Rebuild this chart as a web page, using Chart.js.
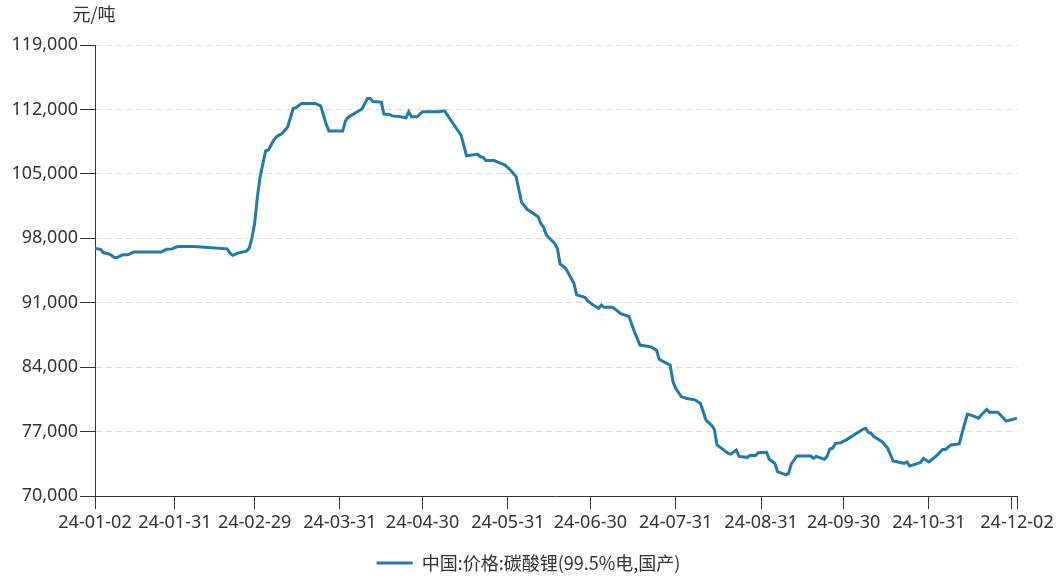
<!DOCTYPE html>
<html>
<head>
<meta charset="utf-8">
<script src="https://cdn.jsdelivr.net/npm/chart.js@4.4.1/dist/chart.umd.min.js"></script>
<style>
  html, body { margin: 0; padding: 0; background: #fff; }
  #wrap { width: 1057px; height: 580px; }
</style>
</head>
<body>
<div id="wrap"><canvas id="chartCanvas" width="1057" height="580"></canvas></div>
<script>
// --- data ---
const seriesName = "中国:价格:碳酸锂(99.5%电,国产)";
const unitLabel = "元/吨";

// days since 2024-01-02
const dayIndex = [
  0, 2, 3, 5, 6, 7, 8, 10, 12, 14, 24, 26, 28, 30, 36, 48, 49, 50, 52, 55,
  56, 57, 58, 59, 60, 62, 63, 65, 66, 68, 70, 72, 73, 75, 80, 82, 84, 85, 90, 91,
  92, 97, 99, 100, 101, 104, 105, 107, 108, 111, 113, 114, 115, 117, 119, 125, 127, 133, 134, 135,
  139, 140, 141, 142, 145, 147, 149, 151, 153, 155, 157, 161, 162, 163, 164, 167, 168, 169, 171, 174,
  175, 178, 179, 181, 183, 184, 185, 188, 189, 191, 194, 196, 198, 202, 204, 205, 209, 210, 211, 213,
  215, 218, 220, 222, 224, 225, 226, 230, 231, 233, 234, 237, 238, 240, 241, 244, 245, 247, 248, 251,
  252, 253, 255, 260, 261, 262, 265, 266, 267, 268, 269, 271, 273, 279, 280, 281, 282, 283, 286, 288,
  290, 294, 295, 296, 297, 300, 301, 303, 306, 308, 309, 311, 314, 316, 317, 319, 321, 322, 324, 325,
  328, 329, 331, 332, 335
];

const priceValues = [
  96900, 96800, 96450, 96300, 96150, 95900, 95900, 96200, 96200, 96500, 96500, 96800, 96850, 97100, 97100, 96850, 96400, 96150, 96400, 96600,
  96900, 98000, 99600, 102500, 104700, 107500, 107600, 108700, 109050, 109400, 110100, 112100, 112200, 112650, 112650, 112400, 110400, 109650, 109650, 110750,
  111150, 112050, 113200, 113200, 112850, 112800, 111500, 111450, 111300, 111200, 111100, 111750, 111200, 111200, 111750, 111750, 111850, 109200, 108100, 106950,
  107150, 106850, 106800, 106450, 106450, 106200, 105950, 105400, 104700, 101900, 101150, 100350, 99600, 99200, 98350, 97450, 96900, 95200, 94750, 93100,
  91850, 91600, 91200, 90750, 90400, 90750, 90500, 90500, 90300, 89800, 89500, 87850, 86400, 86200, 85850, 84850, 84200, 82400, 81700, 80800,
  80600, 80450, 80050, 78250, 77700, 77250, 75550, 74650, 74550, 75000, 74300, 74200, 74400, 74400, 74700, 74750, 74000, 73550, 72650, 72300,
  72450, 73500, 74350, 74350, 74100, 74300, 74000, 74300, 75100, 75200, 75700, 75800, 76100, 77250, 77350, 76900, 76800, 76450, 75900, 75200,
  73800, 73550, 73700, 73250, 73350, 73650, 74100, 73700, 74450, 75050, 75050, 75550, 75650, 77900, 78900, 78700, 78450, 78800, 79400, 79100,
  79100, 78800, 78150, 78200, 78450
];

const tickDays = [0, 29, 58, 89, 119, 150, 180, 211, 242, 272, 303, 333, 335];
const tickLabels = ["24-01-02", "24-01-31", "24-02-29", "24-03-31", "24-04-30", "24-05-31",
  "24-06-30", "24-07-31", "24-08-31", "24-09-30", "24-10-31", "", "24-12-02"];

const yMin = 70000, yMax = 119000, yStep = 7000;

// --- styling ---
const textColor = "#333";
const axisColor = "#333";
const lineColor = "#237aa6";
const fontFamily = '"Noto Sans", "Noto Sans CJK SC", sans-serif';
const cjkFamily = '"Noto Sans CJK SC", "Noto Sans", sans-serif';

// unit label above the y axis
const unitPlugin = {
  id: "unitLabel",
  afterDraw(chart) {
    const { ctx, chartArea } = chart;
    ctx.save();
    ctx.font = `18px ${cjkFamily}`;
    ctx.fillStyle = textColor;
    ctx.textAlign = "center";
    ctx.textBaseline = "middle";
    ctx.fillText(unitLabel, chartArea.left - 1, 14);
    ctx.restore();
  }
};

const points = dayIndex.map((d, i) => ({ x: d, y: priceValues[i] }));

const canvas = document.getElementById("chartCanvas");
new Chart(canvas, {
  type: "line",
  data: {
    datasets: [{
      label: seriesName,
      data: points,
      borderColor: lineColor,
      backgroundColor: lineColor,
      borderWidth: 3,
      pointRadius: 0,
      tension: 0,
      fill: false
    }]
  },
  options: {
    responsive: false,
    animation: false,
    layout: { padding: { top: 45, right: 0, left: 0, bottom: -2 } },
    plugins: {
      legend: {
        position: "bottom",
        labels: {
          usePointStyle: true,
          pointStyle: "line",
          pointStyleWidth: 36,
          color: textColor,
          font: { size: 18, family: cjkFamily },
          padding: 6
        }
      },
      tooltip: { enabled: false }
    },
    scales: {
      x: {
        type: "linear",
        min: 0,
        max: 335,
        afterBuildTicks: scale => { scale.ticks = tickDays.map(v => ({ value: v })); },
        afterFit: scale => { scale.height = 52; scale.paddingRight = 40; },
        grid: {
          drawOnChartArea: false,
          drawTicks: true,
          tickLength: 13,
          tickColor: axisColor,
          tickWidth: 1
        },
        border: { display: true, color: axisColor, width: 1 },
        ticks: {
          autoSkip: false,
          maxRotation: 0,
          padding: 3,
          color: textColor,
          font: { size: 18, family: fontFamily },
          callback: (value, index) => tickLabels[index]
        }
      },
      y: {
        min: yMin,
        max: yMax,
        afterFit: scale => { scale.width = 95; },
        grid: {
          color: ctx => (ctx.index === 0 ? "rgba(0,0,0,0)" : "#dedede"),
          lineWidth: 1,
          tickLength: 15,
          tickColor: axisColor,
          tickWidth: 1,
          tickBorderDash: []
        },
        border: { display: true, color: axisColor, width: 1, dash: [6, 4] },
        ticks: {
          stepSize: yStep,
          padding: 2,
          color: textColor,
          font: { size: 18, family: fontFamily },
          callback: v => v.toLocaleString("en-US")
        }
      }
    }
  },
  plugins: [unitPlugin]
});
</script>
</body>
</html>
